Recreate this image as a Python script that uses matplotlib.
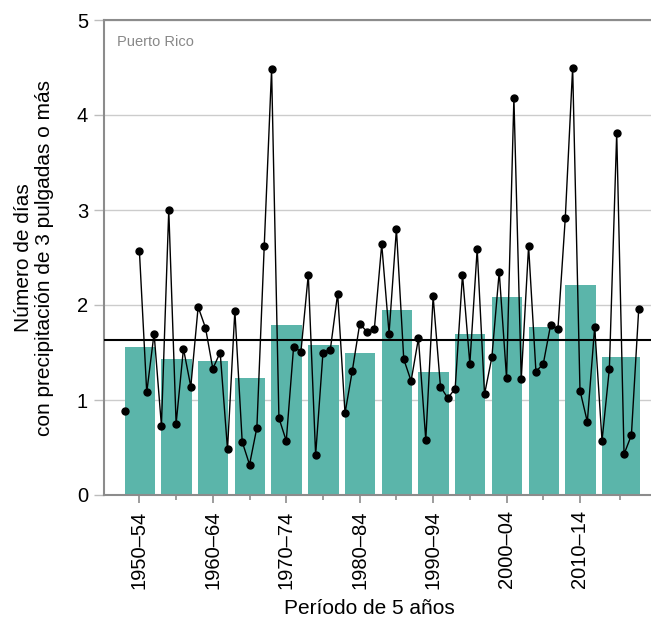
import matplotlib
matplotlib.use("Agg")
import matplotlib.pyplot as plt
import numpy as np

plt.rcParams['font.family'] = ['Liberation Sans', 'DejaVu Sans']

# annual values, 1950-2020 (1951 missing)
years = list(range(1950, 2021))
days = [0.88, np.nan, 2.57, 1.08, 1.70, 0.73, 3.00, 0.75, 1.54, 1.14,
        1.98, 1.76, 1.33, 1.50, 0.48, 1.94, 0.56, 0.32, 0.71, 2.62,
        4.48, 0.81, 0.57, 1.56, 1.51, 2.32, 0.42, 1.50, 1.53, 2.12,
        0.86, 1.31, 1.80, 1.72, 1.75, 2.64, 1.70, 2.80, 1.43, 1.20,
        1.65, 0.58, 2.09, 1.14, 1.02, 1.12, 2.32, 1.38, 2.59, 1.06,
        1.45, 2.35, 1.23, 4.18, 1.22, 2.62, 1.30, 1.38, 1.79, 1.75,
        2.92, 4.50, 1.10, 0.77, 1.77, 0.57, 1.33, 3.81, 0.43, 0.63,
        1.96]

# 5-year periods (last one runs to 2020)
period_start = [1950, 1955, 1960, 1965, 1970, 1975, 1980, 1985, 1990, 1995, 2000, 2005, 2010, 2015]
period_end = [1954, 1959, 1964, 1969, 1974, 1979, 1984, 1989, 1994, 1999, 2004, 2009, 2014, 2020]
period_avg = [1.56, 1.43, 1.41, 1.23, 1.79, 1.58, 1.49, 1.95, 1.30, 1.69, 2.08, 1.77, 2.21, 1.45]
period_labels = ['1950–54', '', '1960–64', '', '1970–74', '', '1980–84', '', '1990–94', '',
                 '2000–04', '', '2010–14', '']
long_term_avg = 1.635

fig = plt.figure(figsize=(6.51, 6.28), dpi=100)
ax = fig.add_axes([104/651, 133/628, 547/651, 475/628])

starts = np.array(period_start)
ends = np.array(period_end)
ax.bar(starts - 0.01, period_avg, width=(ends - starts) + 0.14, align='edge',
       color='#5bb5aa', zorder=2)
ax.axhline(long_term_avg, color='black', lw=1.5, zorder=3)
ax.plot(years, days, color='black', lw=1.0, marker='o', ms=5, zorder=4)

ax.set_xlim(1947.18, 2021.67)
ax.set_ylim(0, 5)

grey = '#8c8c8c'
ax.set_yticks([0, 1, 2, 3, 4, 5])
ax.grid(axis='y', color='#cccccc', lw=1, zorder=0)
ax.set_axisbelow(True)
ax.tick_params(axis='y', length=7.5, width=1, color='#bdbdbd', labelsize=14.5, pad=4)

centers = (starts + ends) / 2
major = [c for c, l in zip(centers, period_labels) if l]
minor = [c for c, l in zip(centers, period_labels) if not l]
ax.set_xticks(major)
ax.set_xticklabels([l for l in period_labels if l], rotation=90)
ax.set_xticks(minor, minor=True)
ax.tick_params(axis='x', which='major', length=6, width=1.2, color=grey, labelsize=14.5, pad=5)
ax.tick_params(axis='x', which='minor', length=3.5, width=1.2, color=grey)

for s in ['left', 'bottom', 'top']:
    ax.spines[s].set_color(grey)
    ax.spines[s].set_linewidth(1.5)
ax.spines['right'].set_visible(False)

ax.text(0.024, 0.953, 'Puerto Rico', transform=ax.transAxes, fontsize=10.5,
        color='#888888', ha='left', va='center')

ax.set_ylabel('Número de días\ncon precipitación de 3 pulgadas o más', fontsize=15,
              va='center', linespacing=1.15)
ax.yaxis.set_label_coords(-0.128, 0.5)
ax.set_xlabel('Período de 5 años', fontsize=15, va='center')
ax.xaxis.set_label_coords(0.486, -0.238)

fig.savefig('out.png', dpi=100)
